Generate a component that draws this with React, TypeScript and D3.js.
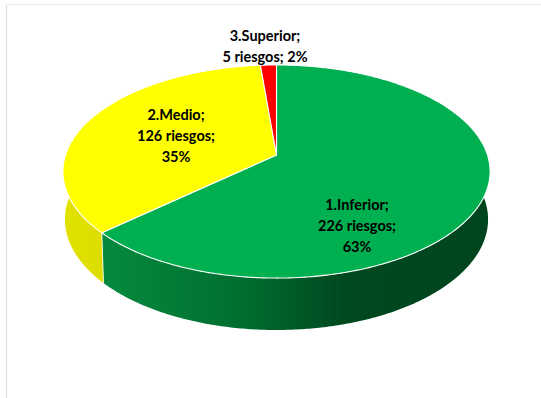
import React from "react";
import * as d3 from "d3";

const categories = ["1.Inferior", "2.Medio", "3.Superior"];
const riesgos = [226, 126, 5];
const percents = ["63%", "35%", "2%"];
const topColors = ["#00b050", "#ffff00", "#ff0000"];

const labelLines = [
  ["1.Inferior;", "226 riesgos;", "63%"],
  ["2.Medio;", "126 riesgos;", "35%"],
  ["3.Superior;", "5 riesgos; 2%"],
];
const labelAnchors: [number, number][] = [
  [357, 210],
  [176, 120],
  [265, 41],
];

// Projective view of the pie disc: the far side is foreshortened.
const cx = 276.5;
const tilt = 0.155;
const topDisc = { a: 211, b: 104, y0: 155 };
const baseDisc = { a: 209, b: 108, y0: 202.2 };

type Disc = typeof topDisc;

function project(d: Disc, angle: number): [number, number] {
  const u = Math.sin(angle);
  const v = -Math.cos(angle);
  const w = 1 - tilt * v;
  return [cx + (d.a * u) / w, d.y0 + (d.b * v) / w];
}

function arcPoints(d: Disc, start: number, end: number): [number, number][] {
  const n = Math.max(2, Math.ceil(Math.abs(end - start) / 0.01));
  return d3.range(n + 1).map((i) => project(d, start + ((end - start) * i) / n));
}

const pieLayout = d3.pie<number>().sort(null).value((v) => v);
const line = d3.line();

export default function App() {
  const slices = pieLayout(riesgos);
  const apex: [number, number] = [cx, topDisc.y0];

  return (
    <svg
      width={541}
      height={398}
      style={{ position: "absolute", left: 0, top: 0, background: "#fff" }}
      fontFamily="Lato, sans-serif"
    >
      <defs>
        <linearGradient id="wall-green" gradientUnits="userSpaceOnUse" x1={103} x2={488} y1={0} y2={0}>
          <stop offset="0" stopColor="#058a3f" />
          <stop offset="0.36" stopColor="#006e30" />
          <stop offset="0.63" stopColor="#00481f" />
          <stop offset="1" stopColor="#00441e" />
        </linearGradient>
        <linearGradient id="wall-yellow" gradientUnits="userSpaceOnUse" x1={64} x2={105} y1={0} y2={0}>
          <stop offset="0" stopColor="#e2e200" />
          <stop offset="1" stopColor="#dcdc00" />
        </linearGradient>
      </defs>

      <line x1={6.5} y1={4} x2={6.5} y2={398} stroke="#dcdcdc" />
      <line x1={6} y1={4.5} x2={541} y2={4.5} stroke="#eeeeee" />

      {/* Side walls: only the front-facing part of the rim is visible */}
      {[
        { from: slices[0].startAngle + 1.2, to: slices[0].endAngle, fill: "url(#wall-green)" },
        { from: slices[1].startAngle, to: slices[1].endAngle, fill: "url(#wall-yellow)" },
      ].map((w, i) => {
        const upper = arcPoints(topDisc, w.from, w.to);
        const lower = arcPoints(baseDisc, w.from, w.to).reverse();
        return <path key={i} d={line([...upper, ...lower]) + "Z"} fill={w.fill} />;
      })}

      {/* Seam between the yellow and green walls */}
      <line
        x1={project(topDisc, slices[0].endAngle)[0]}
        y1={project(topDisc, slices[0].endAngle)[1]}
        x2={project(baseDisc, slices[0].endAngle)[0]}
        y2={project(baseDisc, slices[0].endAngle)[1]}
        stroke="#f4f4d8"
        strokeWidth={1}
      />

      {/* Top faces */}
      {slices.map((s, i) => (
        <path
          key={categories[i]}
          d={line([apex, ...arcPoints(topDisc, s.startAngle, s.endAngle)]) + "Z"}
          fill={topColors[i]}
          stroke="#ffffff"
          strokeWidth={1.1}
          strokeLinejoin="round"
        />
      ))}

      {labelLines.map((lines, i) => (
        <text
          key={percents[i]}
          textAnchor="middle"
          fontSize={14.5}
          fontWeight={700}
          fill="#000"
        >
          {lines.map((t, j) => (
            <tspan key={j} x={labelAnchors[i][0]} y={labelAnchors[i][1] + j * 21}>
              {t}
            </tspan>
          ))}
        </text>
      ))}
    </svg>
  );
}
